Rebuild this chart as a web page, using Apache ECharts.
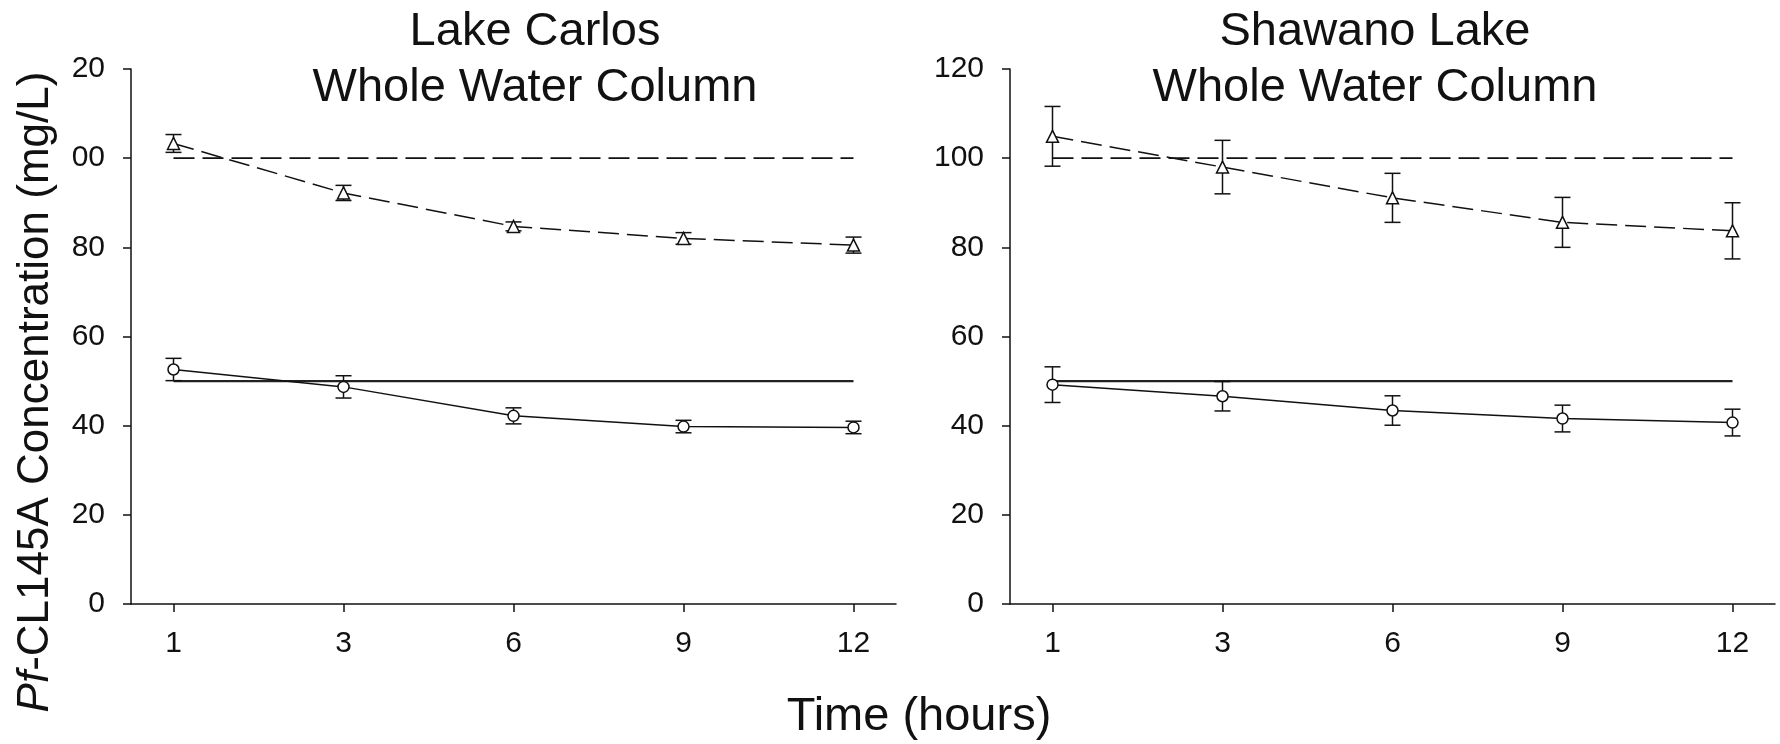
<!DOCTYPE html>
<html>
<head>
<meta charset="utf-8">
<title>Pf-CL145A concentration</title>
<script src="https://cdn.jsdelivr.net/npm/echarts@6/dist/echarts.min.js"></script>
<style>
    html, body { margin: 0; padding: 0; background: #fff; }
    #main { width: 1780px; height: 744px; }
</style>
</head>
<body>
<div id="main"></div>
<script>
// sampling times (hours), evenly spaced on the plot
const hours = ['1', '3', '6', '9', '12'];

// Lake Carlos, whole water column
const carlosHigh = [103.3, 92.2, 84.7, 82.0, 80.5];
const carlosHighErr = [2.0, 1.7, 1.0, 1.3, 1.8];
const carlosLow = [52.6, 48.7, 42.2, 39.8, 39.6];
const carlosLowErr = [2.5, 2.5, 1.8, 1.4, 1.4];

// Shawano Lake, whole water column
const shawanoHigh = [104.9, 98.0, 91.1, 85.6, 83.7];
const shawanoHighErr = [6.7, 6.0, 5.5, 5.6, 6.3];
const shawanoLow = [49.2, 46.6, 43.4, 41.6, 40.7];
const shawanoLowErr = [4.0, 3.3, 3.3, 3.0, 3.0];

// nominal (target) concentrations
const nominalHigh = [100, 100, 100, 100, 100];
const nominalLow = [50, 50, 50, 50, 50];

// y tick labels as printed (left panel has the leading "1" cut off)
const carlosTicks = ['0', '20', '40', '60', '80', '00', '20'];
const shawanoTicks = ['0', '20', '40', '60', '80', '100', '120'];

const FONT = "'Liberation Sans', Arial, sans-serif";
const INK = '#111';

function pts(arr) {
    return arr.map(function (v, i) { return [i, v]; });
}

function errData(vals, errs) {
    return vals.map(function (v, i) { return [i, v - errs[i], v + errs[i]]; });
}

// vertical bar with caps
function renderErr(params, api) {
    let top = api.coord([api.value(0), api.value(2)]);
    let bot = api.coord([api.value(0), api.value(1)]);
    let half = 8;
    let st = { stroke: INK, lineWidth: 1.5 };
    return {
        type: 'group',
        children: [
            { type: 'line', shape: { x1: top[0], y1: top[1], x2: bot[0], y2: bot[1] }, style: st },
            { type: 'line', shape: { x1: top[0] - half, y1: top[1], x2: top[0] + half, y2: top[1] }, style: st },
            { type: 'line', shape: { x1: bot[0] - half, y1: bot[1], x2: bot[0] + half, y2: bot[1] }, style: st }
        ]
    };
}

function xAxis(idx) {
    return {
        type: 'value',
        gridIndex: idx,
        min: -0.25,
        max: 4.25,
        axisLine: { show: true, onZero: false, lineStyle: { color: INK, width: 1.5 } },
        axisTick: { show: true, length: 8, customValues: [0, 1, 2, 3, 4], lineStyle: { color: INK, width: 1.5 } },
        axisLabel: {
            customValues: [0, 1, 2, 3, 4],
            margin: 25,
            fontSize: 30,
            fontFamily: FONT,
            color: INK,
            formatter: function (v) { return hours[Math.round(v)]; }
        },
        splitLine: { show: false }
    };
}

function yAxis(idx, ticks) {
    return {
        type: 'value',
        gridIndex: idx,
        min: 0,
        max: 120,
        interval: 20,
        axisLine: { show: true, onZero: false, lineStyle: { color: INK, width: 1.5 } },
        axisTick: { show: true, length: 8, lineStyle: { color: INK, width: 1.5 } },
        axisLabel: {
            margin: 26,
            fontSize: 30,
            fontFamily: FONT,
            color: INK,
            formatter: function (v) { return ticks[Math.round(v / 20)]; }
        },
        splitLine: { show: false }
    };
}

function panelSeries(idx, high, highErr, low, lowErr) {
    return [
        {
            type: 'line', xAxisIndex: idx, yAxisIndex: idx, data: pts(nominalHigh),
            symbol: 'none', silent: true, z: 1,
            lineStyle: { color: INK, width: 1.6, type: [21, 8] }
        },
        {
            type: 'line', xAxisIndex: idx, yAxisIndex: idx, data: pts(nominalLow),
            symbol: 'none', silent: true, z: 1,
            lineStyle: { color: '#222', width: 2.2 }
        },
        {
            type: 'custom', xAxisIndex: idx, yAxisIndex: idx, data: errData(high, highErr),
            renderItem: renderErr, z: 2
        },
        {
            type: 'custom', xAxisIndex: idx, yAxisIndex: idx, data: errData(low, lowErr),
            renderItem: renderErr, z: 2
        },
        {
            type: 'line', xAxisIndex: idx, yAxisIndex: idx, data: pts(high),
            symbol: 'triangle', symbolSize: 12, showAllSymbol: true, z: 3,
            lineStyle: { color: INK, width: 1.5, type: [21, 8] },
            itemStyle: { color: '#fff', borderColor: INK, borderWidth: 1.5 }
        },
        {
            type: 'line', xAxisIndex: idx, yAxisIndex: idx, data: pts(low),
            symbol: 'circle', symbolSize: 11, showAllSymbol: true, z: 3,
            lineStyle: { color: INK, width: 1.5 },
            itemStyle: { color: '#fff', borderColor: INK, borderWidth: 1.5 }
        }
    ];
}

let myChart = echarts.init(document.getElementById('main'), null, { renderer: 'canvas' });

let titleStyle = { fontSize: 47, fontWeight: 'normal', fontFamily: FONT, color: INK, lineHeight: 56 };

option = {
    animation: false,
    backgroundColor: '#fff',
    title: [
        { text: 'Lake Carlos\nWhole Water Column', left: 535, top: 4, textAlign: 'center', padding: 0, textStyle: titleStyle },
        { text: 'Shawano Lake\nWhole Water Column', left: 1375, top: 4, textAlign: 'center', padding: 0, textStyle: titleStyle }
    ],
    grid: [
        { left: 131, top: 69, width: 765, height: 535 },
        { left: 1010, top: 69, width: 765, height: 535 }
    ],
    xAxis: [xAxis(0), xAxis(1)],
    yAxis: [yAxis(0, carlosTicks), yAxis(1, shawanoTicks)],
    series: panelSeries(0, carlosHigh, carlosHighErr, carlosLow, carlosLowErr)
        .concat(panelSeries(1, shawanoHigh, shawanoHighErr, shawanoLow, shawanoLowErr)),
    graphic: [
        {
            type: 'text',
            x: 36,
            y: 392,
            rotation: Math.PI / 2,
            style: {
                text: '{i|Pf}-CL145A Concentration (mg/L)',
                font: '44px ' + FONT,
                fill: INK,
                align: 'center',
                verticalAlign: 'middle',
                rich: {
                    i: { fontStyle: 'italic', fontSize: 44, fontFamily: FONT, fill: INK }
                }
            }
        },
        {
            type: 'text',
            x: 919,
            y: 717,
            style: {
                text: 'Time (hours)',
                font: '47px ' + FONT,
                fill: INK,
                align: 'center',
                verticalAlign: 'middle'
            }
        }
    ]
};

myChart.setOption(option);
</script>
</body>
</html>
